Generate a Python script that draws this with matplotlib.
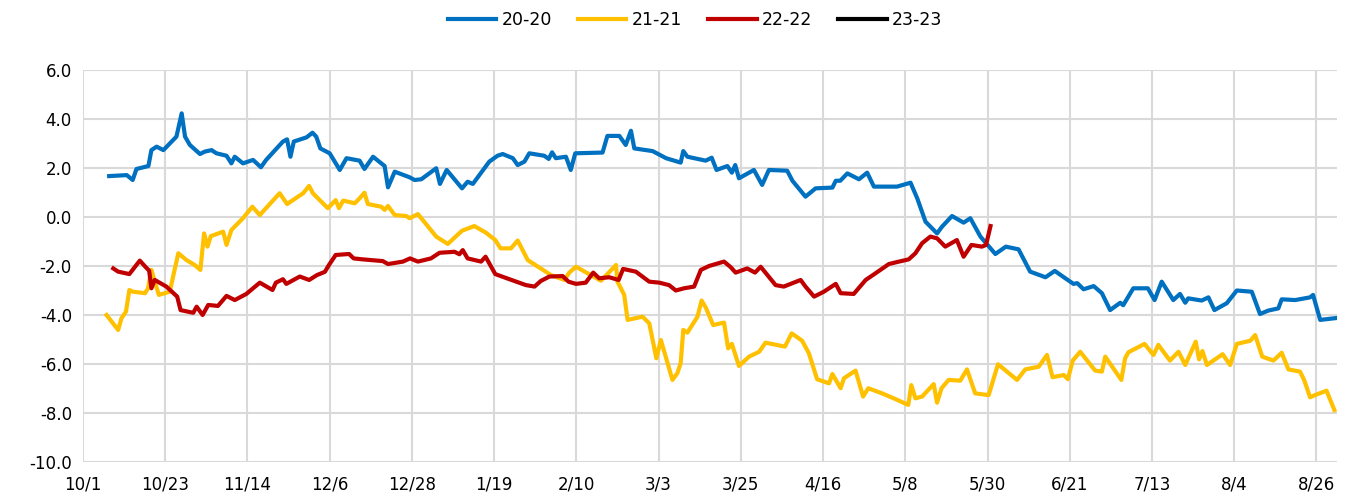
import matplotlib
matplotlib.use("Agg")
import matplotlib.pyplot as plt
import numpy as np

# days counted from 10/1
tick_days = [0, 22, 44, 66, 88, 110, 132, 154, 176, 198, 220, 242, 264, 286, 308, 330]
tick_labels = ["10/1", "10/23", "11/14", "12/6", "12/28", "1/19", "2/10", "3/3",
               "3/25", "4/16", "5/8", "5/30", "6/21", "7/13", "8/4", "8/26"]

days_20 = [7, 11.7, 13.3, 14.3, 17.5, 18.3, 19.7, 21.5, 25, 26.4, 27.3, 28.6, 31.3, 32.6,
           34.4, 35.7, 38.4, 39.7, 40.6, 42.8, 45.5, 47.6, 49, 53.5, 54.6, 55.5, 56.4, 59.8,
           61.4, 62.4, 63.5, 66, 68.7, 70.5, 74, 75.3, 77.6, 80.7, 81.6, 83.4, 87.4, 88.7,
           90.5, 94.5, 95.5, 97.3, 101.4, 102.9, 104.3, 108.7, 110.9, 112.3, 115, 116.3,
           118.1, 119.4, 123.4, 124.6, 125.5, 126.5, 129.2, 130.5, 131.7, 139, 140.3, 143.5,
           145.2, 146.6, 147.5, 152.4, 156, 159.9, 160.6, 161.7, 166.6, 168.2, 169.5, 172.4,
           173.6, 174.5, 175.5, 179.5, 181.7, 183.5, 188.4, 189.8, 193.3, 196, 200.5, 201.4,
           202.6, 204.5, 207.6, 209.8, 211.6, 217.8, 221.4, 223.2, 225.4, 228.5, 229.8,
           232.5, 235.6, 237.4, 240.1, 244.1, 246.9, 250.3, 253.4, 257.5, 260, 262.8, 265,
           266, 267.7, 270.4, 272.6, 274.8, 277.5, 278.3, 281, 284.9, 286.7, 288.6, 291.7,
           293.5, 294.9, 295.7, 299.3, 301.1, 302.7, 306, 308.7, 312.7, 314.9, 317.1, 319.8,
           320.7, 324.3, 328.3, 329.1, 331, 335]
vals_20 = [1.67, 1.71, 1.51, 1.96, 2.08, 2.73, 2.87, 2.73, 3.28, 4.23, 3.28, 2.94, 2.57, 2.67,
           2.73, 2.6, 2.5, 2.19, 2.46, 2.19, 2.33, 2.03, 2.33, 3.08, 3.17, 2.46, 3.08, 3.25,
           3.44, 3.28, 2.80, 2.6, 1.92, 2.4, 2.3, 1.96, 2.46, 2.08, 1.21, 1.85, 1.62, 1.51,
           1.54, 1.99, 1.35, 1.92, 1.17, 1.44, 1.35, 2.26, 2.5, 2.57, 2.4, 2.12,
           2.26, 2.6, 2.5, 2.37, 2.64, 2.4, 2.46, 1.92, 2.6, 2.63, 3.31, 3.31,
           2.94, 3.52, 2.8, 2.69, 2.4, 2.22, 2.69, 2.46, 2.3, 2.42, 1.92, 2.08,
           1.81, 2.12, 1.58, 1.92, 1.31, 1.92, 1.89, 1.48, 0.83, 1.17, 1.2, 1.48,
           1.48, 1.78, 1.54, 1.81, 1.24, 1.24, 1.40, 0.76, -0.19, -0.67, -0.4,
           0.04, -0.23, -0.05, -0.8, -1.51, -1.21, -1.32, -2.23, -2.46, -2.2, -2.5, -2.73,
           -2.70, -2.95, -2.82, -3.11, -3.8, -3.5, -3.6, -2.91, -2.91, -3.39, -2.64, -3.39,
           -3.14, -3.5, -3.32, -3.41, -3.28, -3.8, -3.52, -3.0, -3.05, -3.96, -3.82, -3.73,
           -3.36, -3.39, -3.28, -3.18, -4.2, -4.13]

days_21 = [6.3, 9.4, 10.3, 11.5, 12.4, 13.4, 16.6, 17.4, 18.3, 19.2, 20.3, 23.2, 25.5, 27.7,
           29.9, 31.4, 32.4, 33.3, 34.2, 37.5, 38.4, 39.7, 42.8, 45.3, 47.3, 52.6, 54.6, 58.9,
           60.5, 61.5, 65.5, 67.6, 68.5, 69.6, 72.7, 74, 75.3, 76.2, 79.8, 80.7, 81.6, 83.4,
           86.5, 87.4, 89.6, 94.5, 97.6, 101.4, 104.7, 107.8, 110.3, 111.7, 114.5, 116.3,
           119, 125.2, 128.8, 130.1, 131.9, 136.3, 138.6, 142.6, 143, 144.8, 145.7, 149.7,
           151.5, 153.4, 154.6, 157.7, 159, 159.9, 160.6, 161.7, 164.4, 165.5, 166.6, 168.6,
           171.5, 172.6, 173.6, 175.5, 178.2, 180.9, 182.6, 187.8, 189.6, 192.4, 194.2, 196.4,
           199.6, 200.5, 202.7, 203.6, 206.7, 208.7, 210.1, 213.8, 216.9, 220.8, 221.6, 222.7,
           224.5, 227.6, 228.5, 229.7, 231.6, 234.7, 236.5, 238.7, 242.3, 244.8, 249.9, 252.1,
           255.7, 257.9, 259.4, 262.4, 263.5, 264.8, 266.8, 270.8, 272.6, 273.5, 277.8, 278.8,
           279.7, 284, 286.4, 287.7, 290.8, 293.1, 294.9, 297.7, 298.6, 299.5, 300.7, 304.9,
           306.9, 308.7, 312.3, 313.6, 315.5, 318.5, 320.7, 322.5, 325.6, 326.7, 328.3, 329.6,
           332.7, 334.8]
vals_21 = [-4.0, -4.61, -4.13, -3.86, -2.98, -3.05, -3.11, -2.91, -2.16, -2.64, -3.18, -3.05, -1.48, -1.76,
           -1.96, -2.16, -0.67, -1.21, -0.78, -0.6, -1.14, -0.53, -0.05, 0.42, 0.08, 0.97, 0.53, 0.97,
           1.27, 0.97, 0.36, 0.69, 0.36, 0.67, 0.56, 0.76, 0.99, 0.53, 0.42, 0.29, 0.45, 0.08,
           0.04, -0.05, 0.12, -0.8, -1.1, -0.56, -0.37, -0.64, -0.94, -1.28, -1.28, -0.96,
           -1.76, -2.37, -2.57, -2.27, -2.03, -2.41, -2.6, -1.96, -2.64, -3.18, -4.2, -4.07,
           -4.34, -5.77, -5.02, -6.65, -6.38, -5.97, -4.61, -4.72, -4.07, -3.41, -3.69, -4.41,
           -4.31, -5.36, -5.18, -6.08, -5.70, -5.5, -5.13, -5.29, -4.75, -5.05, -5.56, -6.62,
           -6.79, -6.41, -6.99, -6.58, -6.27, -7.33, -6.99, -7.2, -7.4, -7.67, -6.86, -7.4,
           -7.33, -6.82, -7.58, -6.99, -6.65, -6.68, -6.22, -7.2, -7.27, -6.01, -6.65, -6.22,
           -6.11, -5.63, -6.54, -6.45, -6.62, -5.86, -5.5, -6.27, -6.31, -5.70, -6.65, -5.77,
           -5.52, -5.18, -5.63, -5.22, -5.86, -5.5, -6.04, -5.09, -5.81, -5.47, -6.04, -5.60,
           -6.04, -5.18, -5.05, -4.82, -5.7, -5.86, -5.54, -6.22, -6.31, -6.65, -7.36, -7.27,
           -7.09, -7.88]

days_22 = [8.1, 9.4, 12.4, 15.2, 16.8, 17.7, 18.3, 19.2, 22.3, 25.2, 26.1, 29.5, 30.4, 32,
           33.5, 36.1, 38.4, 40.6, 43.7, 47.3, 50.7, 51.6, 53.5, 54.4, 58, 60.5, 62.6, 64.7,
           65.8, 67.6, 71.2, 72.4, 74.9, 80.2, 81.6, 85.6, 87.5, 89.6, 93.1, 95.4, 99.4, 100.7,
           101.6, 102.9, 106.5, 107.7, 110.3, 114.1, 118.5, 120.8, 122.5, 124.8, 128.3, 129.9,
           131.9, 134.5, 136.5, 138.1, 140.8, 143.3, 144.5, 147.9, 151.5, 154.2, 156.8, 158.6,
           160.8, 163.5, 165.3, 167.5, 171.5, 173.3, 174.6, 177.7, 179.8, 181.3, 185.3, 187.5,
           192, 193.3, 195.6, 198.2, 201.4, 202.7, 206.2, 209.4, 212, 215.6, 218.3, 220.9,
           222.7, 224.5, 226.7, 228.5, 230.7, 233.8, 235.6, 237.7, 240.5, 241.6, 242.8]
vals_22 = [-2.1, -2.23, -2.33, -1.78, -2.05, -2.19, -2.91, -2.57, -2.84, -3.25, -3.8, -3.91, -3.66, -4.0,
           -3.59, -3.63, -3.22, -3.39, -3.14, -2.68, -2.98, -2.68, -2.54, -2.73, -2.43, -2.57, -2.37, -2.24,
           -1.96, -1.55, -1.51, -1.69, -1.73, -1.8, -1.92, -1.82, -1.69, -1.82, -1.69, -1.46, -1.42, -1.52,
           -1.35, -1.69, -1.82, -1.62, -2.33, -2.54, -2.78, -2.84, -2.61, -2.43, -2.41, -2.64,
           -2.73, -2.68, -2.27, -2.5, -2.46, -2.57, -2.12, -2.23, -2.64, -2.68, -2.78, -3.0,
           -2.91, -2.84, -2.16, -2.0, -1.82, -2.05, -2.27, -2.1, -2.27, -2.03, -2.78, -2.84,
           -2.57, -2.84, -3.25, -3.05, -2.73, -3.11, -3.14, -2.57, -2.3, -1.92, -1.82, -1.73,
           -1.48, -1.07, -0.8, -0.87, -1.21, -0.94, -1.62, -1.14, -1.21, -1.14, -0.37]

# 23-23 has no data yet
days_23 = []
vals_23 = []

series = [("20-20", days_20, vals_20, "#0070C0"),
          ("21-21", days_21, vals_21, "#FFC000"),
          ("22-22", days_22, vals_22, "#C00000"),
          ("23-23", days_23, vals_23, "#000000")]

plt.rcParams['font.family'] = ['DejaVu Sans']

fig = plt.figure(figsize=(13.55, 4.97), dpi=100)
ax = fig.add_axes([83/1355, 1-462/497, (1337-83)/1355, (462-70)/497])

for name, d, v, c in series:
    ax.plot(d, v, color=c, linewidth=3.0, label=name, solid_joinstyle='round')

ax.set_xlim(0, 335.5)
ax.set_ylim(-10, 6)
ax.set_xticks(tick_days)
ax.set_xticklabels(tick_labels)
ax.set_yticks(np.arange(-10, 7, 2))
ax.set_yticklabels(["%.1f" % t for t in np.arange(-10, 7, 2)])
ax.grid(True, color="#D9D9D9", linewidth=1.5)
ax.set_axisbelow(True)
for s in ax.spines.values():
    s.set_visible(False)
ax.tick_params(length=0, labelsize=12, colors="#000000")
ax.tick_params(axis='x', pad=10)
ax.tick_params(axis='y', pad=8)

fig.legend(loc='center', bbox_to_anchor=(695/1355, 1-20/497), ncol=4, frameon=False,
           fontsize=12.5, handlelength=2.8, handletextpad=0.3, columnspacing=1.5)

fig.savefig("out.png", dpi=100)
